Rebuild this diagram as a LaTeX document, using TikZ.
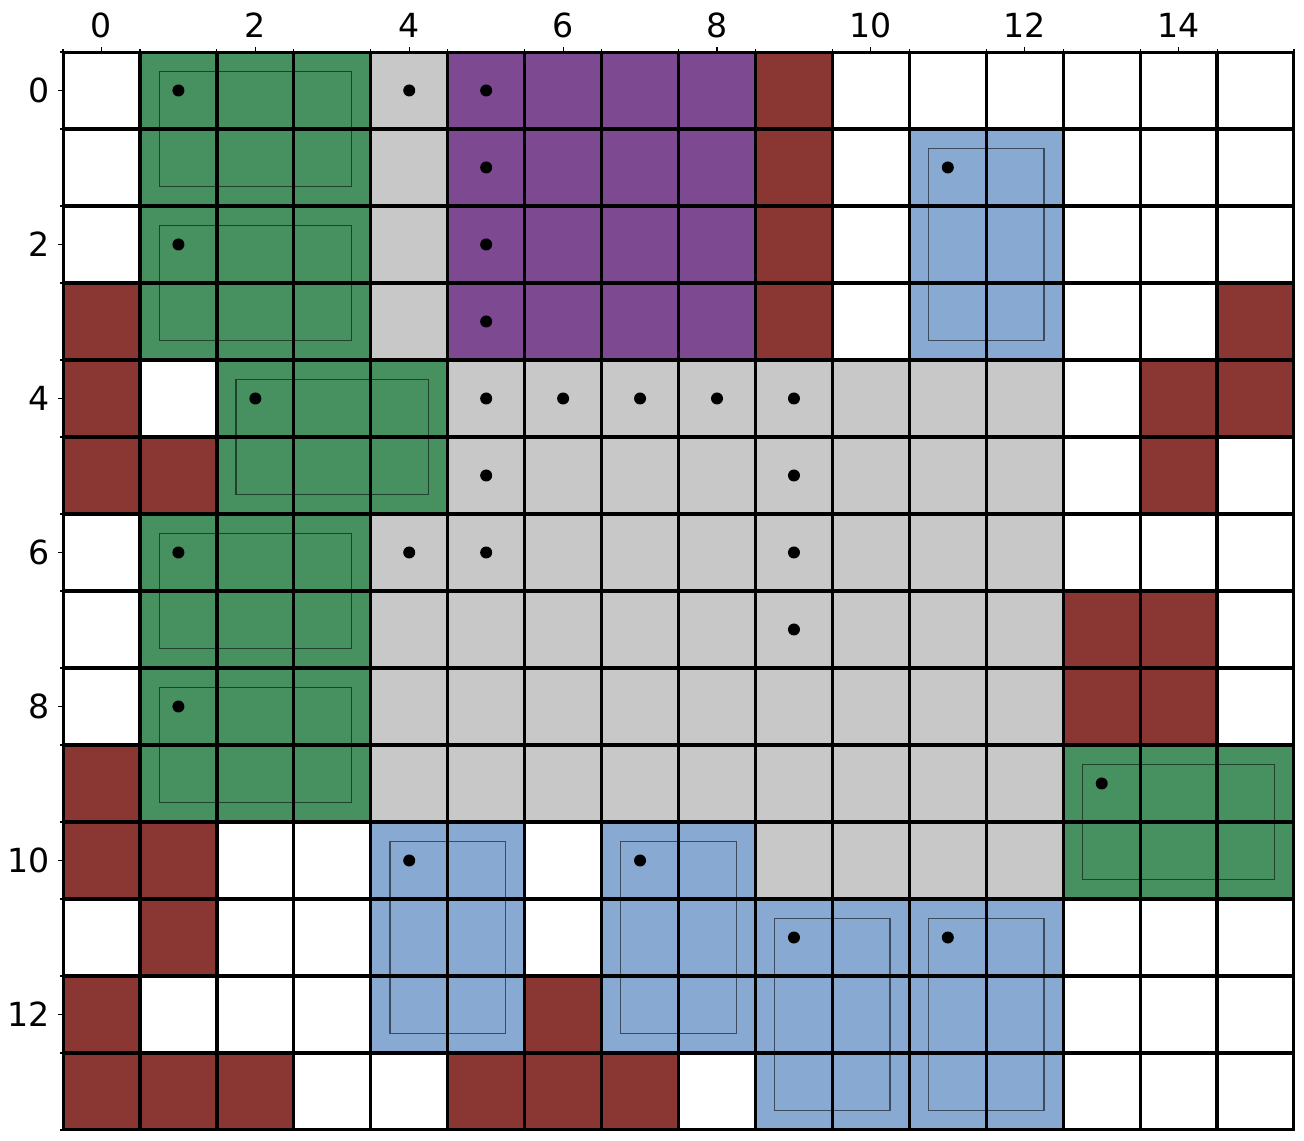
\documentclass[tikz,border=0pt]{standalone}
\usepackage{fontspec}
\setmainfont{DejaVu Sans}
\definecolor{cgreen}{RGB}{71,145,96}
\definecolor{cpurple}{RGB}{125,73,145}
\definecolor{cred}{RGB}{138,54,51}
\definecolor{cblue}{RGB}{135,169,210}
\definecolor{cgray}{RGB}{200,200,200}
\newcommand\cellfill[3]{\filldraw[fill=#1, draw=black!22, line width=0.5pt] (#2-0.5,#3-0.5) rectangle (#2+0.5,#3+0.5);}
\tikzset{
  gridline/.style={line width=1.65pt, black},
  inset/.style={draw=black, draw opacity=0.55, line width=0.65pt},
  dotmark/.style={fill=black},
  ticklabel/.style={font=\fontsize{16.6}{19}\selectfont, inner sep=0pt},
  tickline/.style={line width=0.6pt, black}
}
\begin{document}
\begin{tikzpicture}[x=38.47pt, y=-38.5pt]
\useasboundingbox (-1.3188,-1.175) rectangle (15.629,13.63);
% white background cells
\foreach \c in {0,...,15} \foreach \r in {0,...,13} {\cellfill{white}{\c}{\r}}
% green
\foreach \c in {1,...,3} \foreach \r in {0,...,3} {\cellfill{cgreen}{\c}{\r}}
\foreach \c in {2,...,4} \foreach \r in {4,5} {\cellfill{cgreen}{\c}{\r}}
\foreach \c in {1,...,3} \foreach \r in {6,...,9} {\cellfill{cgreen}{\c}{\r}}
\foreach \c in {13,...,15} \foreach \r in {9,10} {\cellfill{cgreen}{\c}{\r}}
% purple
\foreach \c in {5,...,8} \foreach \r in {0,...,3} {\cellfill{cpurple}{\c}{\r}}
% gray
\foreach \r in {0,...,3} {\cellfill{cgray}{4}{\r}}
\foreach \c in {5,...,12} \foreach \r in {4,5} {\cellfill{cgray}{\c}{\r}}
\foreach \c in {4,...,12} \foreach \r in {6,...,9} {\cellfill{cgray}{\c}{\r}}
\foreach \c in {9,...,12} {\cellfill{cgray}{\c}{10}}
% blue
\foreach \c in {11,12} \foreach \r in {1,...,3} {\cellfill{cblue}{\c}{\r}}
\foreach \c in {4,5,7,8} \foreach \r in {10,...,12} {\cellfill{cblue}{\c}{\r}}
\foreach \c in {9,...,12} \foreach \r in {11,...,13} {\cellfill{cblue}{\c}{\r}}
% red
\foreach \c/\r in {9/0,9/1,9/2,9/3,0/3,15/3,0/4,14/4,15/4,0/5,1/5,14/5,13/7,14/7,13/8,14/8,0/9,0/10,1/10,1/11,0/12,6/12,0/13,1/13,2/13,5/13,6/13,7/13} {\cellfill{cred}{\c}{\r}}
% inset rectangles
\foreach \a/\b/\cc/\d in {1/0/3/1,1/2/3/3,2/4/4/5,1/6/3/7,1/8/3/9,13/9/15/10,11/1/12/3,4/10/5/12,7/10/8/12,9/11/10/13,11/11/12/13}
  {\draw[inset] (\a-0.25,\b-0.25) rectangle (\cc+0.25,\d+0.25);}
% grid lines
\begin{scope}
\clip (-0.5,-0.5) rectangle (15.5,13.5);
\foreach \c in {0,...,16} {\draw[gridline] (\c-0.5,-0.5) -- (\c-0.5,13.5);}
\foreach \r in {0,...,14} {\draw[gridline] (-0.5,\r-0.5) -- (15.5,\r-0.5);}
\end{scope}
\draw[line width=0.9pt] (-0.5,-0.5) rectangle (15.5,13.5);
% dots
\foreach \c/\r in {1/0,4/0,5/0,5/1,11/1,1/2,5/2,5/3,2/4,5/4,6/4,7/4,8/4,9/4,5/5,9/5,1/6,4/6,5/6,9/6,9/7,1/8,13/9,4/10,7/10,9/11,11/11}
  {\fill[dotmark] (\c,\r) circle (3pt);}
% ticks
\foreach \c in {0,2,...,14} {\draw[tickline] (\c,-0.5) -- ++(0pt,2.6pt);
  \node[ticklabel] (tx\c) at (\c,-0.851) {\c};}
\foreach \c in {0,...,16} {\draw[tickline] (\c-0.5,-0.5) -- ++(0pt,1.5pt);}
\foreach \r in {0,2,...,12} {\draw[tickline] (-0.5,\r) -- ++(-2.6pt,0pt);
  \node[ticklabel, anchor=east] (ty\r) at (-0.669,\r) {\r};}
\foreach \r in {0,...,14} {\draw[tickline] (-0.5,\r-0.5) -- ++(-1.5pt,0pt);}
\end{tikzpicture}
\end{document}
